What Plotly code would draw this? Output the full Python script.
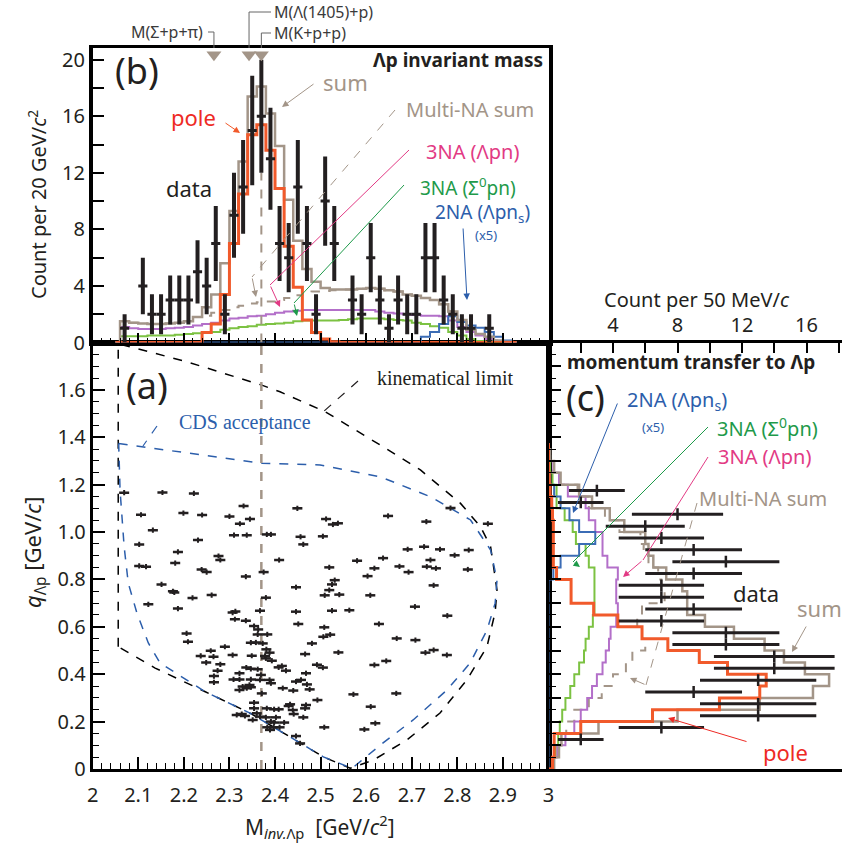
import numpy as np
import plotly.graph_objects as go

W, H = 842, 844
def px(x): return x / W
def py(y): return 1 - y / H

SANS = "Noto Sans"
SERIF = "Liberation Serif"
GRAY = '#a39588'
RED_LINE = '#f15a2b'
RED_TXT = '#ee2a24'
PURPLE = '#b36fc9'
MAGENTA = '#e23a84'
GREEN_LINE = '#7cc242'
GREEN_TXT = '#1e9a4a'
BLUE_LINE = '#3b6cb5'
BLUE_TXT = '#2c5eab'
BLACK = '#231f20'

# ---------------- panel (b): Lambda-p invariant mass ----------------
m_data = [2.07, 2.11, 2.13, 2.15, 2.17, 2.19, 2.21, 2.23, 2.25, 2.27, 2.29, 2.31, 2.33, 2.35, 2.37,
          2.39, 2.41, 2.43, 2.45, 2.47, 2.49, 2.51, 2.53, 2.57, 2.59, 2.61, 2.63, 2.65, 2.67, 2.69,
          2.71, 2.73, 2.75, 2.77, 2.79, 2.81, 2.83, 2.87]
n_data_m = [1, 4, 2, 2, 3, 3, 3, 5, 4, 7, 2, 9, 11, 15, 16, 13, 7, 6, 11, 7,
            2, 10, 7, 3, 2, 6, 3, 1, 3, 2, 2, 6, 6, 3, 2, 1, 1, 1]

m_bins = [2.05, 2.07, 2.09, 2.11, 2.13, 2.15, 2.17, 2.19, 2.21, 2.23, 2.25, 2.27, 2.29, 2.31, 2.33,
          2.35, 2.37, 2.39, 2.41, 2.43, 2.45, 2.47, 2.49, 2.51, 2.53, 2.55, 2.57, 2.59, 2.61, 2.63,
          2.65, 2.67, 2.69, 2.71, 2.73, 2.75, 2.77, 2.79, 2.81, 2.83, 2.85, 2.87, 2.89, 2.91, 2.93]
m_sum = [0, 1.5, 1.4, 1.35, 1.3, 1.3, 1.35, 1.4, 1.5, 1.8, 2.5, 3.4, 5.6, 9.3, 12.8,
         17.4, 18.1, 16.2, 13.9, 10.1, 7.2, 5.2, 4.3, 3.85, 3.75, 3.75, 3.75, 3.8, 3.85, 3.8,
         3.7, 3.6, 3.4, 3.3, 3.15, 3.0, 2.7, 2.2, 1.6, 0.9, 0.6, 0.4, 0.15, 0.05, 0]
m_pole = [0, 0, 0, 0, 0, 0, 0, 0, 0, 0, 0.7, 1.3, 3.4, 7.0, 10.5,
          14.7, 15.4, 13.6, 10.9, 6.8, 3.9, 1.6, 0.7, 0.25, 0.05, 0, 0, 0, 0, 0,
          0, 0, 0, 0, 0, 0, 0, 0, 0, 0, 0, 0, 0, 0, 0]
m_3na_lpn = [0, 1.1, 1.0, 0.95, 0.95, 0.95, 1.0, 1.05, 1.1, 1.2, 1.3, 1.4, 1.55, 1.7, 1.75,
             1.85, 1.9, 2.0, 2.1, 2.2, 2.25, 2.3, 2.3, 2.3, 2.3, 2.3, 2.3, 2.3, 2.3, 2.2,
             2.1, 2.05, 2.0, 1.95, 1.9, 1.9, 1.85, 1.55, 1.1, 0.75, 0.5, 0.25, 0.1, 0, 0]
m_3na_spn = [0, 0.45, 0.45, 0.45, 0.5, 0.5, 0.5, 0.55, 0.6, 0.65, 0.7, 0.75, 0.9, 1.0, 1.1,
             1.15, 1.25, 1.3, 1.35, 1.4, 1.5, 1.55, 1.55, 1.55, 1.55, 1.6, 1.65, 1.7, 1.7, 1.7,
             1.65, 1.6, 1.55, 1.4, 1.3, 1.15, 1.05, 0.75, 0.5, 0.25, 0.1, 0.05, 0, 0, 0]
m_2na = [0, 0, 0, 0, 0, 0, 0, 0, 0, 0, 0, 0, 0, 0, 0,
         0, 0, 0, 0, 0, 0, 0, 0, 0, 0, 0, 0, 0, 0, 0,
         0, 0, 0, 0, 0.4, 0.75, 1.3, 1.85, 1.45, 1.2, 1.05, 0.75, 0.4, 0.15, 0]
m_multi = [0, 1.5, 1.4, 1.35, 1.3, 1.3, 1.35, 1.4, 1.5, 1.8, 1.9, 2.1, 2.3, 2.5, 2.6,
           2.75, 2.85, 2.9, 3.0, 3.15, 3.35, 3.5, 3.6, 3.65, 3.7, 3.75, 3.75, 3.8, 3.85, 3.8,
           3.7, 3.6, 3.4, 3.3, 3.15, 3.0, 2.7, 2.2, 1.6, 0.9, 0.6, 0.4, 0.15, 0.05, 0]

thr_names = ["M(Σ+p+π)", "M(Λ(1405)+p)", "M(K+p+p)"]
thr_mass = [2.266, 2.343, 2.370]

# ---------------- panel (c): momentum transfer ----------------
q_data = [0.125, 0.175, 0.225, 0.275, 0.325, 0.375, 0.425, 0.475, 0.525, 0.575, 0.625,
          0.675, 0.725, 0.775, 0.825, 0.875, 0.925, 0.975, 1.025, 1.075, 1.125, 1.175]
n_data_q = [2, 7, 13, 13, 9, 13, 14, 14, 11, 11, 7, 9, 7, 7, 9, 11, 9, 7, 6, 8, 2, 3]

q_bins = [-0.025, 0.025, 0.075, 0.125, 0.175, 0.225, 0.275, 0.325, 0.375, 0.425, 0.475, 0.525, 0.575,
          0.625, 0.675, 0.725, 0.775, 0.825, 0.875, 0.925, 0.975, 1.025, 1.075,
          1.125, 1.175, 1.225, 1.275, 1.325, 1.375]
q_sum = [0, 0.35, 0.65, 0.8, 3.1, 8.0, 13.1, 16.4, 17.4, 15.9, 14.6, 13.4, 11.5,
         9.7, 8.6, 8.6, 8.3, 7.3, 6.5, 6.2, 6.0, 4.7, 3.8, 2.7, 1.9, 0.75, 0.35, 0.1, 0]
q_pole = [0, 0.25, 0.35, 0.35, 2.0, 6.45, 10.6, 13.1, 13.5, 11.1, 9.35, 7.4, 5.8,
          4.3, 2.8, 1.4, 1.4, 0.5, 0.3, 0.3, 0.3, 0.3, 0.25, 0.2, 0.1, 0.05, 0, 0, 0]
q_3na_lpn = [0, 0.3, 0.55, 1.05, 1.6, 2.0, 2.4, 2.7, 3.0, 3.35, 3.55, 3.75, 3.85,
             4.2, 4.3, 4.2, 4.2, 4.3, 3.65, 3.35, 3.35, 2.9, 2.5, 2.3, 1.2, 0.65, 0.3, 0.05, 0]
q_3na_spn = [0, 0.3, 0.45, 0.6, 0.7, 0.85, 1.05, 1.35, 1.6, 1.9, 2.2, 2.3, 2.5,
             2.75, 2.85, 2.85, 2.85, 2.85, 2.5, 2.3, 1.7, 1.5, 1.0, 0.5, 0.5, 0.25, 0.1, 0, 0]
q_2na = [0, 0, 0, 0, 0, 0, 0, 0, 0, 0, 0, 0, 0,
         0, 0, 0, 0, 0.3, 0.75, 1.9, 2.9, 1.9, 1.3, 0.75, 0.35, 0.1, 0, 0, 0]
q_multi = [0, 0.3, 0.55, 0.8, 1.1, 1.6, 2.5, 3.3, 4.0, 4.8, 5.2, 6.0, 5.8,
           5.5, 5.8, 7.2, 7.0, 6.8, 6.2, 5.9, 5.7, 4.4, 3.5, 2.5, 1.8, 0.7, 0.3, 0.1, 0]

# ---------------- panel (a): event scatter ----------------
m_evt = [2.069, 2.153, 2.222, 2.331, 2.449, 2.106, 2.199, 2.240, 2.300, 2.323, 2.345, 2.132, 2.231,
         2.310, 2.338, 2.382, 2.391, 2.456, 2.462, 2.102, 2.187, 2.276, 2.280, 2.409, 2.102, 2.117,
         2.181, 2.239, 2.250, 2.336, 2.375, 2.151, 2.176, 2.179, 2.261, 2.219, 2.380, 2.446, 2.122,
         2.187, 2.307, 2.313, 2.367, 2.446,
         2.512, 2.527, 2.538, 2.648, 2.785, 2.732, 2.867, 2.505, 2.691, 2.727, 2.762, 2.794, 2.825,
         2.580, 2.637, 2.519, 2.618, 2.673, 2.741, 2.733, 2.753, 2.693, 2.823, 2.603, 2.531, 2.525,
         2.519, 2.509, 2.541, 2.609, 2.748, 2.525, 2.563, 2.707, 2.778,
         2.312, 2.336, 2.451, 2.628, 2.354, 2.363, 2.206, 2.209, 2.362, 2.383, 2.508, 2.506, 2.521,
         2.347, 2.358, 2.373, 2.481, 2.290, 2.259, 2.381, 2.388, 2.466, 2.539, 2.237, 2.265, 2.307,
         2.349, 2.378, 2.380, 2.393, 2.249, 2.280, 2.492, 2.505, 2.618, 2.337, 2.347, 2.362, 2.408,
         2.415, 2.424, 2.274, 2.322, 2.369, 2.468, 2.266, 2.309, 2.322, 2.347, 2.367, 2.388, 2.266,
         2.391, 2.446, 2.457, 2.470, 2.329, 2.338, 2.344, 2.322, 2.347, 2.417, 2.440, 2.476, 2.371,
         2.572, 2.354, 2.433, 2.493, 2.468, 2.610, 2.354, 2.382, 2.398, 2.408, 2.439, 2.466, 2.430,
         2.360, 2.441, 2.316, 2.327, 2.334, 2.367, 2.380, 2.462, 2.351, 2.402, 2.391, 2.398, 2.420,
         2.620, 2.508, 2.383, 2.397, 2.410, 2.596, 2.389, 2.446,
         2.667, 2.708, 2.730, 2.748, 2.777, 2.644, 2.666, 2.455]
q_evt = [1.166, 1.167, 1.163, 1.110, 1.100, 1.073, 1.080, 1.072, 1.066, 1.035, 1.055, 1.008, 0.966,
         0.987, 0.987, 0.990, 0.990, 0.980, 0.948, 0.948, 0.916, 0.899, 0.882, 0.882, 0.857, 0.854,
         0.869, 0.842, 0.831, 0.812, 0.831, 0.779, 0.750, 0.745, 0.734, 0.722, 0.723, 0.767, 0.695,
         0.677, 0.660, 0.665, 0.668, 0.664,
         1.055, 1.032, 1.037, 1.068, 1.101, 1.044, 1.035, 0.982, 0.927, 0.938, 0.927, 0.902, 0.924,
         0.879, 0.890, 0.851, 0.847, 0.855, 0.882, 0.854, 0.847, 0.831, 0.842, 0.814, 0.797, 0.779,
         0.755, 0.733, 0.736, 0.733, 0.775, 0.668, 0.670, 0.685, 0.647,
         0.632, 0.626, 0.612, 0.612, 0.603, 0.589, 0.572, 0.537, 0.568, 0.568, 0.598, 0.558, 0.567,
         0.533, 0.534, 0.530, 0.530, 0.516, 0.499, 0.505, 0.491, 0.485, 0.492, 0.477, 0.474, 0.481,
         0.478, 0.477, 0.467, 0.457, 0.449, 0.442, 0.440, 0.428, 0.439, 0.428, 0.423, 0.421, 0.429,
         0.435, 0.415, 0.415, 0.404, 0.397, 0.404, 0.392, 0.378, 0.378, 0.378, 0.376, 0.376, 0.366,
         0.362, 0.369, 0.376, 0.357, 0.348, 0.341, 0.355, 0.333, 0.345, 0.341, 0.331, 0.336, 0.319,
         0.315, 0.280, 0.273, 0.291, 0.270, 0.263, 0.256, 0.256, 0.252, 0.252, 0.249, 0.256, 0.266,
         0.235, 0.232, 0.228, 0.232, 0.224, 0.221, 0.218, 0.218, 0.207, 0.218, 0.200, 0.196, 0.196,
         0.193, 0.176, 0.176, 0.176, 0.176, 0.167, 0.165, 0.139,
         0.551, 0.544, 0.491, 0.502, 0.481, 0.456, 0.319, 0.108]

kin_m = [2.056, 2.056, 2.206, 2.371, 2.411, 2.510, 2.631, 2.719, 2.807, 2.851, 2.873, 2.887, 2.883,
         2.865, 2.821, 2.762, 2.689, 2.616, 2.565, 2.506, 2.455, 2.433, 2.345, 2.247, 2.137, 2.056]
kin_q = [0.516, 1.795, 1.719, 1.620, 1.592, 1.508, 1.367, 1.262, 1.121, 1.022, 0.938, 0.755, 0.662,
         0.516, 0.376, 0.236, 0.122, 0.038, 0.003, 0.051, 0.110, 0.135, 0.236, 0.326, 0.426, 0.516]
cds_m = [2.057, 2.110, 2.236, 2.371, 2.499, 2.631, 2.741, 2.829, 2.873, 2.887, 2.883, 2.865, 2.828,
         2.777, 2.703, 2.631, 2.569, 2.506, 2.455, 2.345, 2.247, 2.148, 2.122, 2.097, 2.078, 2.069,
         2.060, 2.057]
cds_q = [1.374, 1.360, 1.325, 1.290, 1.283, 1.233, 1.149, 1.051, 0.924, 0.797, 0.700, 0.586, 0.447,
         0.333, 0.207, 0.101, 0.003, 0.051, 0.110, 0.236, 0.326, 0.447, 0.532, 0.658, 0.785, 0.938,
         1.177, 1.374]

fig = go.Figure()

# ---- panel (b) traces
def bstep(y, color, width, dash='solid'):
    fig.add_trace(go.Scatter(x=m_bins, y=y, mode='lines', line=dict(color=color, width=width, dash=dash, shape='hvh'),
                             xaxis='x2', yaxis='y2', hoverinfo='skip', showlegend=False))
bstep(m_multi, GRAY, 2, 'dash')
bstep(m_3na_spn, GREEN_LINE, 2)
bstep(m_3na_lpn, PURPLE, 2)
bstep(m_2na, BLUE_LINE, 2)
bstep(m_sum, GRAY, 2.5)
bstep(m_pole, RED_LINE, 3)
fig.add_trace(go.Scatter(x=[thr_mass[2], thr_mass[2]], y=[0, 12], mode='lines',
                         line=dict(color=GRAY, width=2, dash='dash'), xaxis='x2', yaxis='y2',
                         hoverinfo='skip', showlegend=False))
fig.add_trace(go.Scatter(x=m_data, y=n_data_m, mode='markers', marker=dict(size=0.1, color=BLACK),
                         error_y=dict(type='data', array=np.sqrt(n_data_m), thickness=4, width=0, color=BLACK),
                         error_x=dict(type='constant', value=0.01, thickness=3, width=0, color=BLACK),
                         xaxis='x2', yaxis='y2', hoverinfo='skip', showlegend=False))
fig.add_trace(go.Scatter(x=thr_mass, y=[20.35] * 3, mode='markers',
                         marker=dict(symbol='triangle-down', size=13, color=GRAY),
                         xaxis='x2', yaxis='y2', hoverinfo='skip', showlegend=False, cliponaxis=False))

# ---- panel (a) traces
fig.add_trace(go.Scatter(x=kin_m, y=kin_q, mode='lines', line=dict(color='black', width=1.5, dash='dash'),
                         xaxis='x', yaxis='y', hoverinfo='skip', showlegend=False))
fig.add_trace(go.Scatter(x=cds_m, y=cds_q, mode='lines', line=dict(color=BLUE_TXT, width=1.5, dash='dash'),
                         xaxis='x', yaxis='y', hoverinfo='skip', showlegend=False))
fig.add_trace(go.Scatter(x=[thr_mass[2], thr_mass[2]], y=[0, 1.8], mode='lines',
                         line=dict(color=GRAY, width=2.5, dash='dash'), xaxis='x', yaxis='y',
                         hoverinfo='skip', showlegend=False))
fig.add_trace(go.Scatter(x=m_evt, y=q_evt, mode='markers', marker=dict(size=0.1, color=BLACK),
                         error_x=dict(type='constant', value=0.011, thickness=2.5, width=0, color=BLACK),
                         error_y=dict(type='constant', value=0.011, thickness=2, width=0, color=BLACK),
                         xaxis='x', yaxis='y', hoverinfo='skip', showlegend=False))

# ---- panel (c) traces
def cstep(x, color, width, dash='solid'):
    fig.add_trace(go.Scatter(x=x, y=q_bins, mode='lines', line=dict(color=color, width=width, dash=dash, shape='vhv'),
                             xaxis='x3', yaxis='y3', hoverinfo='skip', showlegend=False))
cstep(q_multi, GRAY, 2, 'dash')
cstep(q_3na_spn, GREEN_LINE, 2)
cstep(q_3na_lpn, PURPLE, 2)
cstep(q_2na, BLUE_LINE, 2)
cstep(q_sum, GRAY, 2.5)
cstep(q_pole, RED_LINE, 3)
fig.add_trace(go.Scatter(x=n_data_q, y=q_data, mode='markers', marker=dict(size=0.1, color=BLACK),
                         error_x=dict(type='data', array=np.sqrt(n_data_q), thickness=3, width=0, color=BLACK),
                         error_y=dict(type='constant', value=0.025, thickness=2.5, width=0, color=BLACK),
                         xaxis='x3', yaxis='y3', hoverinfo='skip', showlegend=False))

XA = [92.7 / W, 548.5 / W]
YA = [1 - 769 / H, 1 - 342.5 / H]
YB = [1 - 342.5 / H, 1 - 47.7 / H]
XC = [548.5 / W, 1.0]
tickf = dict(family=SANS, size=20, color=BLACK)

fig.update_layout(
    width=W, height=H, margin=dict(l=0, r=0, t=0, b=0, autoexpand=False),
    paper_bgcolor='white', plot_bgcolor='white', showlegend=False,
    xaxis=dict(domain=XA, anchor='y', range=[2, 3], tickvals=[2, 2.1, 2.2, 2.3, 2.4, 2.5, 2.6, 2.7, 2.8, 2.9, 3],
               ticktext=['2', '2.1', '2.2', '2.3', '2.4', '2.5', '2.6', '2.7', '2.8', '2.9', '3'],
               ticks='inside', ticklen=12, tickwidth=1.5, tickcolor='black', tickfont=tickf,
               minor=dict(dtick=0.02, ticks='inside', ticklen=6, tickwidth=1.2, tickcolor='black'),
               showline=True, linewidth=3, linecolor='black', mirror=True, showgrid=False, zeroline=False,
               ticklabelstandoff=6, automargin=False),
    yaxis=dict(domain=YA, anchor='x', range=[0, 1.8], tickvals=[0, 0.2, 0.4, 0.6, 0.8, 1.0, 1.2, 1.4, 1.6],
               ticktext=['0', '0.2', '0.4', '0.6', '0.8', '1.0', '1.2', '1.4', '1.6'],
               ticks='inside', ticklen=12, tickwidth=1.5, tickcolor='black', tickfont=tickf,
               minor=dict(dtick=0.05, ticks='inside', ticklen=6, tickwidth=1.2, tickcolor='black'),
               showline=True, linewidth=3, linecolor='black', mirror=True, showgrid=False, zeroline=False,
               automargin=False),
    xaxis2=dict(domain=XA, anchor='y2', range=[2, 3], dtick=0.1, showticklabels=False,
                ticks='inside', ticklen=10, tickwidth=1.5, tickcolor='black',
                minor=dict(dtick=0.02, ticks='inside', ticklen=5, tickwidth=1.2, tickcolor='black'),
                showline=True, linewidth=3, linecolor='black', mirror=True, showgrid=False, zeroline=False,
                automargin=False),
    yaxis2=dict(domain=YB, anchor='x2', range=[0, 20.85], tickvals=[0, 4, 8, 12, 16, 20],
                ticks='inside', ticklen=12, tickwidth=1.5, tickcolor='black', tickfont=tickf,
                minor=dict(dtick=2, ticks='inside', ticklen=12, tickwidth=1.5, tickcolor='black'),
                showline=True, linewidth=3.5, linecolor='black', mirror=True, showgrid=False, zeroline=False,
                automargin=False),
    xaxis3=dict(domain=XC, anchor='y3', side='top', range=[0, 18.2], tickvals=[4, 8, 12, 16],
                ticks='inside', ticklen=11, tickwidth=1.5, tickcolor='black', tickfont=tickf,
                minor=dict(dtick=2, ticks='inside', ticklen=11, tickwidth=1.5, tickcolor='black'),
                showline=True, linewidth=2.5, linecolor='black', mirror=True, showgrid=False, zeroline=False,
                ticklabelstandoff=0, automargin=False),
    yaxis3=dict(domain=YA, anchor='x3', range=[0, 1.8], dtick=0.1, showticklabels=False,
                ticks='inside', ticklen=12, tickwidth=1.5, tickcolor='black',
                minor=dict(dtick=0.05, ticks='inside', ticklen=7, tickwidth=1.2, tickcolor='black'),
                showline=True, linewidth=3, linecolor='black', mirror=False, showgrid=False, zeroline=False,
                automargin=False),
)

ann = []
def text(x, y, s, size=20, color=BLACK, anchor='center', family=SANS, angle=0):
    ann.append(dict(x=px(x), y=py(y), xref='paper', yref='paper', text=s, showarrow=False,
                    xanchor=anchor, yanchor='middle', textangle=angle,
                    font=dict(family=family, size=size, color=color)))
def arrow(tx, ty, hx, hy, color, width=1):
    ann.append(dict(x=px(hx), y=py(hy), xref='paper', yref='paper', ax=tx - hx, ay=ty - hy,
                    axref='pixel', ayref='pixel', text='', showarrow=True, arrowhead=2,
                    arrowsize=1.3, arrowwidth=width, arrowcolor=color))
shapes = []
def seg(x0, y0, x1, y1, color, width=1, dash='solid'):
    shapes.append(dict(type='line', xref='paper', yref='paper', x0=px(x0), y0=py(y0), x1=px(x1), y1=py(y1),
                       line=dict(color=color, width=width, dash=dash)))

# axis titles
text(38, 205, 'Count per 20 GeV/<i>c</i><sup>2</sup>', 20, angle=-90)
text(34, 552, '<i>q</i><sub>Λp</sub> [GeV/<i>c</i>]', 22, angle=-90)
text(320, 826, 'M<sub><i>inv.</i>Λp</sub>  [GeV/<i>c</i><sup>2</sup>]', 21)
text(697, 299, 'Count per 50 MeV/<i>c</i>', 20)

# panel (b)
text(137, 70, '(b)', 36)
text(545, 60, '<b>Λp invariant mass</b>', 19, anchor='right')
text(345, 82, 'sum', 22, GRAY)
text(193, 117, 'pole', 22, RED_TXT)
text(470, 109, 'Multi-NA sum', 20, GRAY)
text(472, 151, '3NA (Λpn)', 20, MAGENTA)
text(468, 187, '3NA (Σ<sup>0</sup>pn)', 19, GREEN_TXT)
text(482, 213, '2NA (Λpn<sub>s</sub>)', 19, BLUE_TXT)
text(486, 235, '(x5)', 13, BLUE_TXT)
text(189, 188, 'data', 22)
arrow(315, 83, 282, 107, GRAY)
arrow(224, 122, 240, 133, RED_LINE)
seg(395, 110, 252, 277, GRAY, 1, 'dash')
arrow(252, 277, 256, 297, GRAY)
seg(409, 150, 270, 285, MAGENTA)
arrow(270, 285, 280, 307, MAGENTA)
seg(404, 185, 294, 303, GREEN_TXT)
arrow(294, 303, 297, 316, GREEN_TXT)
arrow(463, 227, 467, 300, BLUE_TXT)

# threshold labels
text(205, 32, thr_names[0], 16, '#3a3a3a', anchor='right')
text(272, 12, thr_names[1], 16, '#3a3a3a', anchor='left')
text(272, 33, thr_names[2], 16, '#3a3a3a', anchor='left')
for i, (yl, xe) in enumerate([(32, 208), (12, 271), (33, 271)]):
    xt = 92.7 + (thr_mass[i] - 2) * 455.8
    seg(xe, yl, xt, yl, '#666666', 1)
    seg(xt, yl, xt, 48, '#666666', 1)

# panel (a)
text(147, 385, '(a)', 36)
text(445, 378, 'kinematical limit', 20, BLACK, family=SERIF)
seg(358, 381, 323, 412, BLACK, 1.2, 'dash')
text(245, 422, 'CDS acceptance', 20, BLUE_TXT, family=SERIF)
seg(157, 426, 143, 446, BLUE_TXT, 1.2, 'dash')

# panel (c)
text(565, 362, '<b>momentum transfer to Λp</b>', 19, anchor='left')
text(585, 398, '(c)', 36)
text(677, 400, '2NA (Λpn<sub>s</sub>)', 20, BLUE_TXT)
text(653, 427, '(x5)', 13, BLUE_TXT)
text(767, 427, '3NA (Σ<sup>0</sup>pn)', 20, GREEN_TXT)
text(764, 457, '3NA (Λpn)', 20, MAGENTA)
text(697, 498, 'Multi-NA sum', 20, GRAY, anchor='left')
text(756, 593, 'data', 22)
text(795, 608, 'sum', 22, GRAY, anchor='left')
text(785, 752, 'pole', 22, RED_TXT)
arrow(618, 402, 573, 513, BLUE_TXT)
seg(708, 427, 573, 562, GREEN_TXT)
arrow(573, 562, 580, 567, GREEN_TXT)
seg(708, 457, 643, 560, MAGENTA)
arrow(643, 560, 623, 577, MAGENTA)
seg(697, 503, 646, 685, GRAY, 1, 'dash')
arrow(646, 685, 630, 678, GRAY)
arrow(807, 625, 792, 652, GRAY)
arrow(748, 742, 668, 718, RED_TXT)

fig.update_layout(annotations=ann, shapes=shapes)
fig.write_html("out.html", config={'displayModeBar': False},
               post_script="document.body.style.margin='0px';")
